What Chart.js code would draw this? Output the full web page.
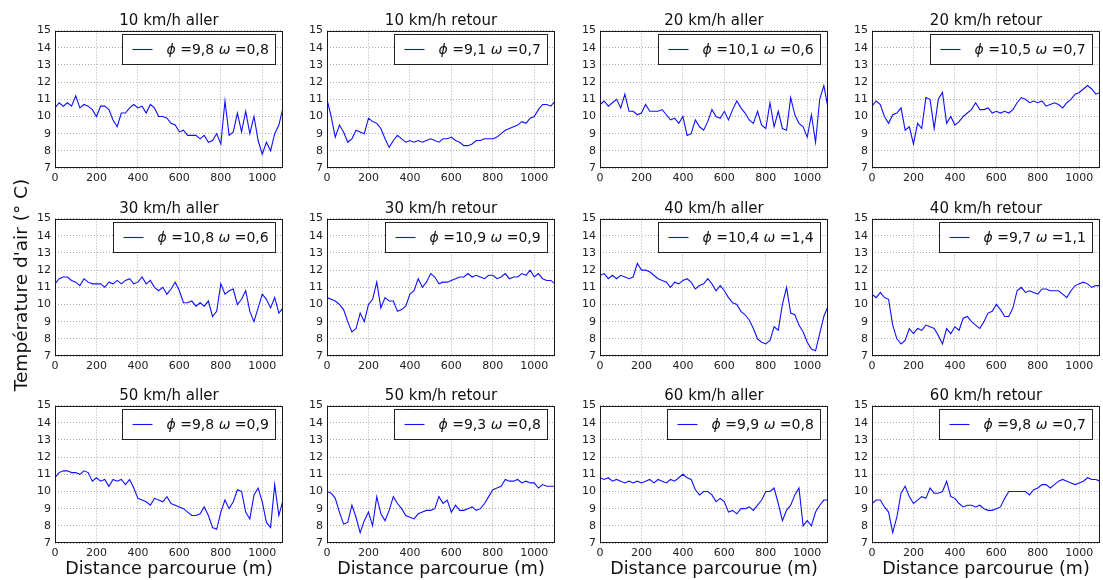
<!DOCTYPE html>
<html><head><meta charset="utf-8">
<script src="https://cdn.jsdelivr.net/npm/chart.js@4/dist/chart.umd.min.js"></script>
<style>
html,body{margin:0;padding:0;background:#fff;}
#wrap{position:relative;width:1103px;height:580px;overflow:hidden;font-family:"DejaVu Sans",sans-serif;color:#111;}
#wrap canvas{position:absolute;}
.ptitle{position:absolute;font-size:15px;line-height:15px;white-space:nowrap;text-align:center;}
.xtitle{position:absolute;font-size:17.5px;line-height:18px;white-space:nowrap;text-align:center;}
.ytitle{position:absolute;font-size:18.5px;line-height:18px;white-space:nowrap;text-align:center;width:300px;left:-129px;top:276px;transform:rotate(-90deg);}
</style></head><body><div id="wrap"></div>
<script>
const distance = [0,20,40,60,80,100,120,140,160,180,200,220,240,260,280,300,320,340,360,380,400,420,440,460,480,500,520,540,560,580,600,620,640,660,680,700,720,740,760,780,800,820,840,860,880,900,920,940,960,980,1000,1020,1040,1060,1080,1100];

const titles = ["10 km/h aller","10 km/h retour","20 km/h aller","20 km/h retour","30 km/h aller","30 km/h retour","40 km/h aller","40 km/h retour","50 km/h aller","50 km/h retour","60 km/h aller","60 km/h retour"];
const phi = ["9,8","9,1","10,1","10,5","10,8","10,9","10,4","9,7","9,8","9,3","9,9","9,8"];
const omega = ["0,8","0,7","0,6","0,7","0,6","0,9","1,4","1,1","0,9","0,8","0,8","0,7"];
const xTicks = [0,200,400,600,800,1000];
const yTicks = [7,8,9,10,11,12,13,14,15];
const xAxisTitle = "Distance parcourue (m)";
const yAxisTitle = "Température d'air (° C)";

const t10Aller = [10.5,10.8,10.6,10.8,10.6, 11.2,10.5,10.7,10.6,10.4, 10.0,10.6,10.6,10.4,9.8, 9.4,10.2,10.2,10.5,10.7, 10.5,10.6,10.2,10.7,10.5, 10.0,10.0,9.9,9.6,9.5, 9.1,9.2,8.9,8.9,8.9, 8.7,8.9,8.5,8.6,9.0, 8.4,10.9,8.9,9.1,10.2, 9.1,10.3,9.0,10.0,8.6, 7.8,8.5,8.0,9.0,9.5, 10.5];
const t10Retour = [11.0,10.0,8.8,9.5,9.1, 8.5,8.7,9.2,9.1,9.0, 9.9,9.7,9.6,9.3,8.7, 8.2,8.6,8.9,8.7,8.5, 8.6,8.5,8.6,8.5,8.6, 8.7,8.6,8.5,8.7,8.7, 8.8,8.6,8.5,8.3,8.3, 8.4,8.6,8.6,8.7,8.7, 8.7,8.8,9.0,9.2,9.3, 9.4,9.5,9.7,9.6,9.9, 10.0,10.4,10.7,10.7,10.6, 10.9];
const t20Aller = [10.7,10.9,10.6,10.8,11.0, 10.5,11.3,10.3,10.3,10.1, 10.2,10.7,10.3,10.3,10.3, 10.4,10.1,9.8,9.9,9.6, 10.0,8.9,9.0,9.8,9.4, 9.2,9.7,10.4,10.0,9.9, 10.3,9.8,10.4,10.9,10.5, 10.2,9.8,9.6,10.3,9.5, 9.3,10.8,9.4,10.3,9.3, 9.2,11.1,10.1,9.6,9.4, 8.8,10.1,8.5,11.0,11.8, 10.5];
const t20Retour = [10.6,10.9,10.7,10.0,9.6, 10.1,10.2,10.5,9.2,9.4, 8.4,9.6,9.3,11.1,11.0, 9.3,11.0,11.4,9.6,10.0, 9.5,9.7,10.0,10.2,10.4, 10.8,10.4,10.4,10.5,10.2, 10.3,10.2,10.3,10.2,10.4, 10.8,11.1,11.0,10.8,10.9, 10.8,10.9,10.6,10.7,10.8, 10.7,10.5,10.8,11.0,11.3, 11.4,11.6,11.8,11.6,11.3, 11.4];
const t30Aller = [11.2,11.5,11.6,11.6,11.4, 11.3,11.1,11.5,11.3,11.2, 11.2,11.2,11.0,11.3,11.2, 11.4,11.2,11.4,11.5,11.2, 11.3,11.6,11.2,11.4,11.0, 10.8,11.0,10.6,10.9,11.3, 10.8,10.1,10.1,10.2,9.9, 10.1,9.9,10.2,9.3,9.6, 11.2,10.6,10.8,10.9,10.0, 10.3,10.8,9.6,9.0,9.8, 10.6,10.3,9.8,10.4,9.5, 9.8];
const t30Retour = [10.4,10.3,10.2,10.0,9.7, 9.0,8.4,8.6,9.5,9.0, 10.0,10.3,11.3,9.8,10.4, 10.2,10.2,9.6,9.7,9.9, 10.6,10.8,11.5,11.0,11.3, 11.8,11.6,11.2,11.3,11.3, 11.4,11.5,11.6,11.6,11.8, 11.6,11.7,11.6,11.5,11.7, 11.7,11.5,11.6,11.8,11.5, 11.6,11.6,11.8,11.7,12.0, 11.6,11.8,11.5,11.4,11.4, 11.2];
const t40Aller = [11.7,11.8,11.5,11.7,11.5, 11.7,11.6,11.5,11.6,12.4, 12.0,12.0,11.9,11.7,11.5, 11.4,11.3,11.0,11.3,11.2, 11.4,11.5,11.3,10.9,11.1, 11.2,11.5,11.2,10.8,11.1, 10.8,10.4,10.1,10.0,9.6, 9.4,9.1,8.6,8.0,7.8, 7.7,7.9,8.7,8.5,10.0, 11.0,9.5,9.4,8.8,8.4, 7.8,7.4,7.3,8.3,9.3, 9.9];
const t40Retour = [10.6,10.4,10.7,10.4,10.3, 8.8,8.0,7.7,7.9,8.6, 8.3,8.6,8.5,8.8,8.7, 8.6,8.2,7.7,8.6,8.3, 8.7,8.5,9.2,9.3,9.0, 8.8,8.6,9.0,9.5,9.6, 10.0,9.7,9.3,9.3,9.8, 10.8,11.0,10.7,10.8,10.7, 10.6,10.9,10.9,10.8,10.8, 10.8,10.6,10.4,10.8,11.1, 11.2,11.3,11.2,11.0,11.1, 11.1];
const t50Aller = [10.8,11.1,11.2,11.2,11.1, 11.1,11.0,11.2,11.1,10.6, 10.8,10.6,10.7,10.3,10.7, 10.6,10.7,10.4,10.7,10.2, 9.6,9.5,9.4,9.2,9.6, 9.5,9.4,9.7,9.3,9.2, 9.1,9.0,8.8,8.6,8.6, 8.7,9.1,8.6,7.9,7.8, 8.8,9.5,9.0,9.4,10.1, 10.0,8.8,8.4,9.8,10.2, 9.4,8.2,7.9,10.4,8.6, 9.5];
const t50Retour = [10.0,9.9,9.6,8.8,8.1, 8.2,9.2,8.5,7.6,8.3, 8.8,8.0,9.7,8.7,8.3, 8.9,9.7,9.3,9.0,8.6, 8.5,8.4,8.7,8.8,8.9, 8.9,9.0,9.7,9.3,9.5, 8.8,9.2,8.9,8.9,9.0, 9.1,8.9,9.0,9.3,9.7, 10.1,10.2,10.3,10.7,10.6, 10.6,10.7,10.5,10.6,10.5, 10.5,10.2,10.4,10.3,10.3, 10.3];
const t60Aller = [10.8,10.7,10.8,10.6,10.7, 10.6,10.5,10.6,10.5,10.6, 10.5,10.6,10.7,10.5,10.7, 10.6,10.5,10.7,10.6,10.8, 11.0,10.8,10.7,10.1,9.8, 10.0,10.0,9.8,9.4,9.6, 9.4,8.8,8.9,8.7,9.0, 9.0,9.1,8.9,9.2,9.5, 10.0,10.0,10.2,9.3,8.3, 8.9,9.2,9.8,10.2,8.0, 8.3,8.0,8.8,9.2,9.5, 9.5];
const t60Retour = [9.3,9.5,9.5,9.1,8.8, 7.6,8.5,9.9,10.3,9.7, 9.3,9.5,9.7,9.6,10.2, 9.9,9.9,10.0,10.6,9.7, 9.6,9.3,9.1,9.2,9.2, 9.1,9.2,9.0,8.9,8.9, 9.0,9.1,9.6,10.0,10.0, 10.0,10.0,10.0,9.8,10.1, 10.2,10.4,10.4,10.2,10.4, 10.6,10.7,10.6,10.5,10.4, 10.5,10.6,10.8,10.7,10.7, 10.6];

const series = [t10Aller,t10Retour,t20Aller,t20Retour,t30Aller,t30Retour,t40Aller,t40Retour,t50Aller,t50Retour,t60Aller,t60Retour];

// layout (pixels)
const colLeft = [55,327,600,872];
const rowTop = [30,218,405];
const plotW = 228, plotH = 138;
const padL = 40, padT = 10, padR = 10, padB = 22;
const FONT = '"DejaVu Sans", sans-serif';

function makePanelPlugin(parts){
  return {
    id:'panelDeco',
    afterDatasetsDraw(chart){
      const ctx = chart.ctx, a = chart.chartArea;
      const ds = chart.data.datasets[0];
      ctx.save();
      ctx.strokeStyle = '#1a1a1a'; ctx.lineWidth = 1;
      ctx.strokeRect(Math.round(a.left)+0.5, Math.round(a.top)+0.5, Math.round(a.right-a.left)-1, Math.round(a.bottom-a.top)-1);
      const fs = 14;
      const fonts = parts.map(p => (p.it ? 'italic ' : '') + fs + 'px ' + FONT);
      let tw = 0;
      parts.forEach((p,k)=>{ ctx.font = fonts[k]; tw += ctx.measureText(p.t).width; });
      const w = Math.round(44 + tw + 7), h = 30;
      const x = Math.round(a.right - 8 - w) + 0.5, y = Math.round(a.top + 3) + 0.5;
      ctx.fillStyle = '#fff'; ctx.fillRect(x, y, w, h);
      ctx.strokeStyle = '#222'; ctx.lineWidth = 1; ctx.strokeRect(x, y, w, h);
      ctx.strokeStyle = ds.borderColor; ctx.lineWidth = ds.borderWidth;
      ctx.beginPath(); ctx.moveTo(x+10, y+h/2); ctx.lineTo(x+30, y+h/2); ctx.stroke();
      ctx.fillStyle = '#111'; ctx.textBaseline = 'middle'; ctx.textAlign = 'left';
      let tx = x + 44;
      parts.forEach((p,k)=>{ ctx.font = fonts[k]; ctx.fillText(p.t, tx, y + h/2 + 1); tx += ctx.measureText(p.t).width; });
      ctx.restore();
    }
  };
}

const wrap = document.getElementById('wrap');
series.forEach((vals, i) => {
  const r = Math.floor(i/4), c = i % 4;
  const L = colLeft[c], T = rowTop[r];
  const cv = document.createElement('canvas');
  const cw = padL + plotW + padR, ch = padT + plotH + padB;
  cv.width = cw; cv.height = ch;
  cv.style.left = (L - padL) + 'px'; cv.style.top = (T - padT) + 'px';
  cv.style.width = cw + 'px'; cv.style.height = ch + 'px';
  wrap.appendChild(cv);

  const t = document.createElement('div');
  t.className = 'ptitle'; t.textContent = titles[i];
  t.style.left = L + 'px'; t.style.width = plotW + 'px'; t.style.top = (T - 17) + 'px';
  wrap.appendChild(t);

  if (r === 2) {
    const xt = document.createElement('div');
    xt.className = 'xtitle'; xt.textContent = xAxisTitle;
    xt.style.left = (L - 20) + 'px'; xt.style.width = (plotW + 40) + 'px'; xt.style.top = (T + plotH + 16) + 'px';
    wrap.appendChild(xt);
  }

  const label = 'ϕ =' + phi[i] + ' ω =' + omega[i];
  const parts = [{t:'ϕ',it:true},{t:' =' + phi[i] + ' '},{t:'ω',it:true},{t:' =' + omega[i]}];
  const tickFont = {family: FONT, size: 11};
  new Chart(cv, {
    type: 'line',
    data: {
      datasets: [{
        label: label,
        data: distance.map((d, k) => ({x: d, y: vals[k]})),
        borderColor: '#1010ff',
        borderWidth: 1.1,
        pointRadius: 0,
        tension: 0,
        fill: false
      }]
    },
    options: {
      responsive: false,
      animation: false,
      devicePixelRatio: 1,
      layout: {padding: {top: padT, right: padR, left: 0, bottom: 0}},
      plugins: {legend: {display: false}, tooltip: {enabled: false}, title: {display: false}},
      scales: {
        x: {
          type: 'linear', min: 0, max: 1100,
          afterBuildTicks: s => { s.ticks = xTicks.map(v => ({value: v})); },
          afterFit: s => { s.height = padB; },
          grid: {color: '#8a8a8a', lineWidth: 0.7, drawTicks: false},
          border: {display: false, dash: [1, 2]},
          ticks: {padding: 4, font: tickFont, color: '#222', maxRotation: 0, autoSkip: false, callback: v => String(v)}
        },
        y: {
          type: 'linear', min: 7, max: 15,
          afterBuildTicks: s => { s.ticks = yTicks.map(v => ({value: v})); },
          afterFit: s => { s.width = padL; },
          grid: {color: '#8a8a8a', lineWidth: 0.7, drawTicks: false},
          border: {display: false, dash: [1, 2]},
          ticks: {padding: 4, font: tickFont, color: '#222', autoSkip: false, callback: v => String(v)}
        }
      }
    },
    plugins: [makePanelPlugin(parts)]
  });
});

const yt = document.createElement('div');
yt.className = 'ytitle'; yt.textContent = yAxisTitle;
wrap.appendChild(yt);
</script>
</body></html>
